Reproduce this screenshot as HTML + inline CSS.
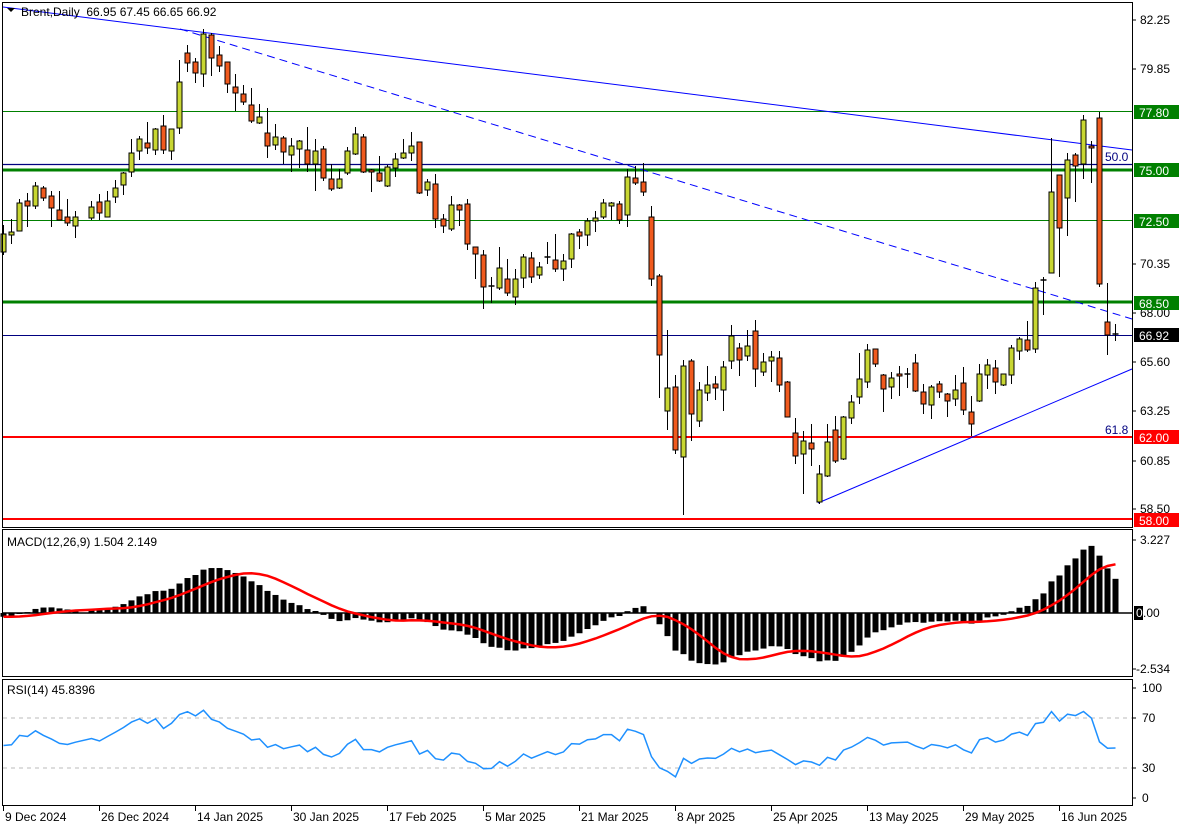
<!DOCTYPE html>
<html><head><meta charset="utf-8"><style>
html,body{margin:0;padding:0;background:#fff;}
svg{display:block;font-family:"Liberation Sans",sans-serif;font-size:12px;}
</style></head><body>
<svg id="s" width="1182" height="830" xmlns="http://www.w3.org/2000/svg"></svg>
<script>
const D=[
['g',234,252,225,255],['g',232,235,219,244],['g',203,231,199,231],['r',201,206,193,227],['g',186,206,182,209],
['r',188,198,186,201],['r',196,208,191,227],['r',210,220,191,220],['r',217,223,199,226],['g',217,226,211,238],
null,['g',207,218,201,220],['r',202,213,194,220],['g',201,217,191,217],['g',188,197,180,203],
['g',173,185,172,195],['g',153,172,139,177],['g',139,151,136,160],['r',143,148,122,154],['g',129,150,128,155],
['r',126,150,115,154],['g',129,151,129,160],['g',82,128,60,134],['r',53,63,45,72],['r',62,73,58,83],
['g',34,74,29,87],['r',35,58,33,76],['r',55,66,46,72],['r',62,84,62,93],['r',87,93,74,111],
['r',94,102,85,105],['r',105,121,88,123],['g',117,123,104,124],['r',133,146,108,158],['g',137,145,124,150],
['r',138,152,136,164],['g',146,155,138,172],['g',141,149,140,168],['r',150,164,127,172],['g',151,164,139,191],
['r',149,178,146,181],['r',179,189,164,191],['g',179,188,169,189],['g',151,173,147,175],['g',134,154,127,155],
['r',137,172,134,173],['r',170,172,169,192],['r',173,181,156,182],['g',167,186,165,187],['g',159,168,153,177],
['g',153,158,139,159],['g',146,153,132,161],['r',142,193,142,194],['g',182,190,179,196],['r',184,219,174,228],
['r',219,226,214,233],['g',205,229,196,231],['r',205,210,204,226],['r',204,244,199,250],['r',247,254,247,279],
['r',255,287,250,309],['d',286,286,277,303],['g',268,288,247,290],['r',279,293,259,296],['g',279,297,269,305],
['g',257,278,254,288],['r',258,277,252,283],['g',267,275,262,279],['d',257,257,242,264],['r',260,269,234,272],
['g',261,269,254,281],['g',234,259,233,268],['r',232,236,229,249],['g',221,235,218,246],['g',218,221,211,232],
['g',203,217,199,219],['g',203,206,202,220],['r',204,220,201,224],['g',177,215,169,227],['r',178,183,166,185],
['r',182,192,163,196],['r',217,279,206,286],['r',276,355,274,398],['g',388,411,330,430],['r',387,450,375,454],
['g',366,457,360,515],['r',361,414,359,441],['g',390,421,382,427],['g',385,393,366,401],['r',384,388,376,400],
['g',367,390,361,411],['g',336,361,325,369],['r',348,360,343,376],['g',346,356,330,361],['r',331,369,320,387],
['g',362,372,353,376],['g',357,361,351,382],['r',358,385,351,392],['r',382,417,381,417],['r',433,456,418,464],
['g',441,454,431,494],['r',443,449,424,466],['g',474,502,465,504],['g',442,476,424,477],['r',430,461,416,463],
['g',417,459,416,460],['g',402,418,395,424],['g',379,397,353,404],['g',350,382,344,388],['r',349,364,349,367],
['r',375,389,374,412],['g',378,387,372,399],['r',374,376,366,396],['d',374,374,368,388],['r',363,391,354,392],
['r',392,404,384,414],['g',387,405,385,419],['r',384,392,381,398],['r',394,401,393,417],['g',390,399,375,406],
['r',383,410,367,415],['r',412,424,396,436],['g',374,401,364,402],['g',365,375,359,389],['r',368,382,360,394],
['g',374,385,374,386],['g',348,375,345,384],['g',339,351,337,360],['r',340,350,321,352],['g',288,349,282,353],
['d',280,280,277,315],['g',192,273,138,273],['r',175,228,175,277],['g',160,198,153,236],['r',155,166,153,202],
['g',120,164,115,179],['r',146,148,141,183],['r',118,284,112,287],['r',322,335,283,355],['d',334,334,324,341]
];
let h='';
const X=i=>3.5+8*i;
const L=(x1,y1,x2,y2,c,w,extra)=>`<line x1="${x1}" y1="${y1}" x2="${x2}" y2="${y2}" stroke="${c}" stroke-width="${w}" ${extra||''}/>`;
const T=(x,y,t,c,extra)=>`<text x="${x}" y="${y}" fill="${c||'#000'}" ${extra||''}>${t}</text>`;
h+=L(3,111.5,1132,111.5,'#008000',1);
h+=L(3,164.5,1132,164.5,'#000080',1.2);
h+=L(3,170,1132,170,'#008000',3);
h+=L(3,220.5,1132,220.5,'#008000',1);
h+=L(3,302,1132,302,'#008000',3);
h+=L(3,335.5,1132,335.5,'#000080',1);
h+=L(3,437,1132,437,'#ff0000',2);
h+=L(3,519,1132,519,'#ff0000',2);
h+=L(3,7,1132,150,'#0000ff',1);
h+=L(180,29,1132,319,'#0000ff',1,'stroke-dasharray="8,5"');
h+=L(818,503,1132,369,'#0000ff',1);
h+=T(1105,161,'50.0','#000080');
h+=T(1105,434,'61.8','#000080');
const closes=[];
D.forEach((d,i)=>{
  if(!d)return;
  const [t,a,b,hi,lo]=d;const x=X(i);
  h+=L(x,hi,x,lo,'#000',1);
  const col=t==='g'?'#c8d632':(t==='r'?'#f05a1e':'#000');
  if(t==='d'){h+=L(x-3,a,x+3,a,'#000',1.5);}
  else h+=`<rect x="${x-2.5}" y="${a}" width="5" height="${Math.max(b-a,1)}" fill="${col}" stroke="#000" stroke-width="1"/>`;
  const cy=t==='g'?a:b;
  closes.push({i,p:82.25-(cy-20)/20.59});
});
const pre=[];const p0=closes[0].p;
for(let k=0;k<40;k++)pre.push(p0+1.2*(40-k)/40+(k%2?0.35:-0.35));
const all=pre.concat(closes.map(c=>c.p));
function ema(a,n){const k=2/(n+1);let e=a[0];return a.map(v=>e=e+k*(v-e));}
const e12=ema(all,12),e26=ema(all,26);const macd=all.map((v,j)=>e12[j]-e26[j]);
const sig=macd.map((v,j)=>{let s=0,c=0;for(let q=Math.max(0,j-8);q<=j;q++){s+=macd[q];c++;}return s/c;});
let ag=0,al=0;const rsi=[50];
for(let j=1;j<all.length;j++){const ch=all[j]-all[j-1];const g=Math.max(ch,0),l=Math.max(-ch,0);
  if(j<=14){ag+=g/14;al+=l/14;}else{ag=(ag*13+g)/14;al=(al*13+l)/14;}
  rsi.push(al===0?100:100-100/(1+ag/al));}
const off=pre.length;
const MY=v=>613-v*22.6;
let sp='',rp='';
closes.forEach((c,k)=>{const j=off+k;const x=X(c.i);
  const m=macd[j];const y=MY(m);
  h+=`<rect x="${x-3}" y="${Math.min(y,613)}" width="6" height="${Math.max(Math.abs(y-613),0.5)}" fill="#000"/>`;
  sp+=(k?'L':'M')+x+','+MY(sig[j]).toFixed(1);
  rp+=(k?'L':'M')+x+','+(805.5-rsi[j]*1.25).toFixed(1);
});
h+=L(3,613,1132,613,'#000',1.5);
h+=`<path d="${sp}" fill="none" stroke="#ff0000" stroke-width="2.5"/>`;
h+=L(3,718,1132,718,'#bbb',1,'stroke-dasharray="4,4"');
h+=L(3,768,1132,768,'#bbb',1,'stroke-dasharray="4,4"');
h+=`<path d="${rp}" fill="none" stroke="#1e90ff" stroke-width="1.5"/>`;
h+=`<rect x="2.5" y="2.5" width="1130" height="525" fill="none" stroke="#000"/>`;
h+=`<rect x="2.5" y="529.5" width="1130" height="147" fill="none" stroke="#000"/>`;
h+=`<rect x="2.5" y="679.5" width="1130" height="126" fill="none" stroke="#000"/>`;
[[82.25,20],[79.85,69],[70.35,264],[68.00,313],[65.60,362],[63.25,411],[60.85,461],[58.50,509]].forEach(([v,y])=>{
  h+=L(1132,y,1136,y,'#000',1);h+=T(1140,y+4,v.toFixed(2));});
[['77.80',112,'#008000','#fff'],['75.00',170,'#008000','#fff'],['72.50',221,'#008000','#fff'],['68.50',303,'#008000','#fff'],
 ['66.92',335,'#000','#fff'],['62.00',437,'#ff0000','#fff'],['58.00',520,'#ff0000','#fff']].forEach(([t,y,bg,fg])=>{
  h+=`<rect x="1134" y="${y-7}" width="45" height="14" fill="${bg}"/>`;h+=T(1139,y+5,t,fg);});
h+=L(1132,540,1136,540,'#000',1);h+=T(1140,544,'3.227');
h+=`<rect x="1134" y="606" width="9" height="14" fill="#000"/>`;h+=T(1136,617,'0','#fff');h+=T(1143,617,'.00');
h+=L(1132,669,1136,669,'#000',1);h+=T(1136,673,'-2.534');
[['100',688],['70',718],['30',768],['0',798]].forEach(([t,y])=>{h+=L(1132,y,1136,y,'#000',1);h+=T(1142,y+4,t);});
['9 Dec 2024','26 Dec 2024','14 Jan 2025','30 Jan 2025','17 Feb 2025','5 Mar 2025','21 Mar 2025','8 Apr 2025','25 Apr 2025','13 May 2025','29 May 2025','16 Jun 2025'].forEach((t,k)=>{
  const x=3+96*k;h+=L(x+0.5,806,x+0.5,811,'#000',1);h+=T(x+2,821,t);});
h+=`<path d="M7,8 L15,8 L11,12 Z" fill="#000"/>`;
h+=T(21,16,'Brent,Daily  66.95 67.45 66.65 66.92','#000','xml:space="preserve"');
h+=T(7,546,'MACD(12,26,9) 1.504 2.149');
h+=T(7,694,'RSI(14) 45.8396');
document.getElementById('s').innerHTML=h;
</script>
</body></html>
